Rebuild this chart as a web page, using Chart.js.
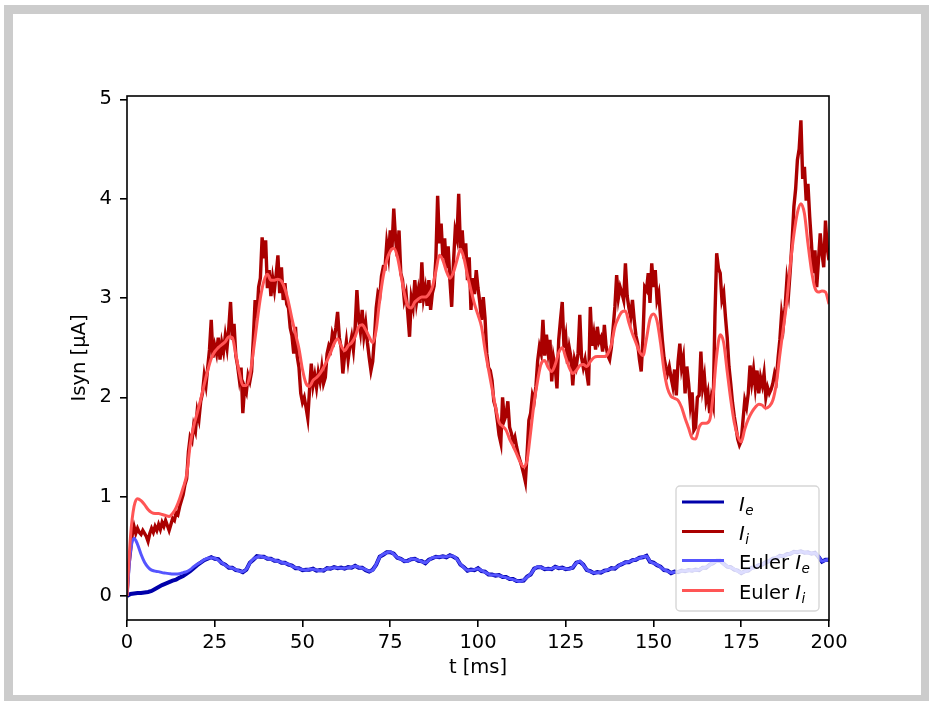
<!DOCTYPE html>
<html><head><meta charset="utf-8">
<script src="https://cdn.jsdelivr.net/npm/chart.js@4"></script>
<style>
html,body{margin:0;padding:0;background:#fff;}
body{width:929px;height:701px;position:relative;overflow:hidden;}
#frame{position:absolute;left:4px;top:5px;width:926px;height:699px;box-sizing:border-box;border:9px solid #cccccc;background:#fff;}
#c{position:absolute;left:0;top:0;}
</style></head><body>
<div id="frame"></div>
<canvas id="c" width="929" height="701"></canvas>
<script>
// ---- data ----
const xTicks = [0, 25, 50, 75, 100, 125, 150, 175, 200];
const yTicks = [0, 1, 2, 3, 4, 5];
const seriesLabels = ['Iₑ', 'Iᵢ', 'Euler Iₑ', 'Euler Iᵢ'];
const legendParts = [['', 'I', 'e'], ['', 'I', 'i'], ['Euler ', 'I', 'e'], ['Euler ', 'I', 'i']];
const xLabel = 't [ms]';
const yLabel = 'Isyn [μA]';

// time grids (ms)
const tMs = Array.from({length: 201}, (_, i) => i);
const tHalfMs = Array.from({length: 401}, (_, i) => i * 0.5);

// I_e (1 ms sampling)
const iE = [0,0.02,0.025,0.03,0.03,0.035,0.04,0.05,0.07,0.09,
 0.11,0.125,0.14,0.155,0.165,0.185,0.20,0.225,0.25,0.28,
 0.31,0.335,0.36,0.375,0.39,0.375,0.37,0.33,0.315,0.285,
 0.285,0.26,0.255,0.24,0.265,0.335,0.365,0.40,0.395,0.395,
 0.375,0.375,0.355,0.355,0.335,0.335,0.315,0.305,0.28,0.28,
 0.26,0.265,0.265,0.275,0.255,0.26,0.255,0.28,0.275,0.29,
 0.28,0.285,0.275,0.29,0.285,0.305,0.285,0.285,0.26,0.245,
 0.265,0.315,0.395,0.415,0.44,0.44,0.425,0.385,0.375,0.35,
 0.355,0.37,0.375,0.355,0.35,0.33,0.365,0.38,0.395,0.39,
 0.40,0.39,0.41,0.395,0.375,0.315,0.29,0.255,0.265,0.26,
 0.28,0.25,0.245,0.215,0.215,0.205,0.21,0.19,0.19,0.17,
 0.17,0.15,0.15,0.155,0.195,0.215,0.275,0.29,0.29,0.27,
 0.275,0.27,0.295,0.28,0.285,0.27,0.275,0.285,0.335,0.345,
 0.315,0.26,0.25,0.23,0.24,0.235,0.255,0.26,0.28,0.275,
 0.305,0.32,0.34,0.34,0.36,0.365,0.385,0.39,0.405,0.345,
 0.335,0.31,0.295,0.26,0.255,0.23,0.245,0.24,0.255,0.25,
 0.26,0.255,0.265,0.26,0.285,0.285,0.315,0.33,0.355,0.355,
 0.325,0.295,0.29,0.265,0.255,0.23,0.25,0.255,0.285,0.29,
 0.31,0.315,0.34,0.35,0.375,0.38,0.405,0.40,0.42,0.425,
 0.445,0.44,0.45,0.435,0.44,0.425,0.435,0.395,0.345,0.365,
 0.365];

// I_i (0.5 ms sampling)
const iI = [0,0.30,0.45,0.62,0.70,0.63,0.68,0.64,0.62,0.66,
 0.63,0.60,0.55,0.63,0.68,0.64,0.70,0.66,0.72,0.67,
 0.74,0.70,0.76,0.71,0.66,0.72,0.78,0.76,0.84,0.82,
 0.90,0.96,1.02,1.12,1.18,1.45,1.60,1.56,1.72,1.66,
 1.86,1.78,1.96,2.04,2.22,2.12,2.30,2.48,2.78,2.40,
 2.52,2.44,2.60,2.38,2.55,2.46,2.62,2.50,2.70,2.96,
 2.58,2.74,2.42,2.32,2.18,2.30,1.84,2.10,2.05,2.22,
 2.16,2.26,2.60,2.98,2.80,3.11,3.20,3.61,3.40,3.58,
 3.10,3.28,3.02,3.20,3.08,3.24,3.43,3.05,3.31,2.98,
 3.15,2.94,2.90,2.70,2.62,2.44,2.71,2.41,2.30,2.04,
 1.95,2.00,1.90,1.79,2.07,2.34,2.12,2.22,2.10,2.25,
 2.16,2.30,2.14,2.20,2.44,2.52,2.48,2.64,2.58,2.70,
 2.86,2.60,2.50,2.24,2.42,2.56,2.38,2.52,2.61,2.48,
 2.70,3.08,2.78,2.66,2.88,2.62,2.74,2.55,2.40,2.27,
 2.36,2.60,2.90,3.05,3.01,3.22,3.31,3.30,3.55,3.42,
 3.68,3.50,3.90,3.60,3.42,3.68,3.25,3.18,2.98,3.05,
 2.84,2.61,3.00,2.91,3.18,2.96,3.08,2.95,3.36,3.00,
 3.10,2.92,3.18,2.88,3.05,3.12,3.40,4.03,3.55,3.75,
 3.40,3.60,3.30,3.52,3.18,2.91,3.35,3.68,3.60,4.05,
 3.50,3.68,3.40,3.55,3.18,3.41,2.88,3.20,3.04,3.28,
 3.10,2.96,2.78,3.01,2.80,2.44,2.30,2.27,2.17,1.96,
 1.90,1.77,1.62,1.54,2.00,1.77,1.82,1.96,1.70,1.64,
 1.55,1.60,1.50,1.42,1.36,1.30,1.23,1.15,1.44,1.77,
 1.84,2.02,1.96,2.11,2.37,2.51,2.44,2.78,2.42,2.63,
 2.45,2.58,2.16,2.40,2.30,2.09,2.58,2.78,2.96,2.50,
 2.61,2.34,2.50,2.40,2.12,2.38,2.31,2.44,2.83,2.40,
 2.30,2.38,2.24,2.12,2.91,2.52,2.64,2.48,2.71,2.56,
 2.60,2.46,2.73,2.51,2.42,2.38,2.50,2.70,2.91,3.23,
 3.00,3.11,3.05,2.98,3.35,3.02,2.90,2.81,2.98,2.78,
 2.62,2.54,2.38,2.26,2.60,3.11,3.08,3.25,2.95,3.35,
 3.11,3.28,2.98,3.05,2.81,2.58,2.40,2.31,2.24,2.31,
 2.20,2.11,2.28,2.02,2.36,2.54,2.30,2.40,2.04,2.31,
 2.14,1.92,2.05,1.67,1.70,2.00,2.02,2.46,2.10,2.21,
 1.97,2.05,1.84,2.00,1.92,2.81,3.45,3.30,3.25,2.98,
 3.05,2.81,2.60,2.31,2.14,1.95,1.81,1.70,1.58,1.52,
 1.56,1.77,1.97,1.90,2.04,2.32,2.15,2.28,2.10,2.27,
 2.04,2.20,2.12,2.24,2.00,2.10,2.04,2.08,2.14,2.24,
 2.18,2.40,2.58,2.84,2.72,2.91,3.18,3.05,3.30,3.58,
 3.92,4.10,4.39,4.50,4.79,4.20,4.32,3.98,4.15,3.82,
 3.55,3.25,3.48,3.11,3.38,3.65,3.45,3.31,3.78,3.50,
 3.38];

// Euler I_e (1 ms sampling)
const eulerIe = [0,0.45,0.58,0.52,0.42,0.34,0.29,0.26,0.25,0.245,
 0.235,0.23,0.225,0.22,0.22,0.225,0.235,0.245,0.265,0.295,
 0.32,0.34,0.365,0.38,0.385,0.38,0.36,0.335,0.31,0.29,
 0.28,0.265,0.25,0.245,0.27,0.33,0.37,0.39,0.40,0.39,
 0.38,0.37,0.36,0.35,0.34,0.33,0.32,0.30,0.285,0.275,
 0.265,0.26,0.27,0.27,0.26,0.255,0.26,0.275,0.28,0.285,
 0.285,0.28,0.28,0.285,0.29,0.30,0.29,0.28,0.265,0.25,
 0.26,0.32,0.39,0.42,0.435,0.445,0.42,0.39,0.37,0.355,
 0.35,0.375,0.37,0.36,0.345,0.335,0.36,0.385,0.39,0.395,
 0.395,0.395,0.405,0.40,0.37,0.32,0.285,0.26,0.26,0.265,
 0.275,0.255,0.24,0.22,0.21,0.21,0.205,0.195,0.185,0.175,
 0.165,0.155,0.145,0.16,0.19,0.22,0.27,0.295,0.285,0.275,
 0.27,0.275,0.29,0.285,0.28,0.275,0.27,0.29,0.33,0.35,
 0.31,0.265,0.245,0.235,0.235,0.24,0.25,0.265,0.275,0.28,
 0.30,0.325,0.335,0.345,0.355,0.37,0.38,0.395,0.40,0.35,
 0.33,0.315,0.29,0.265,0.25,0.235,0.24,0.245,0.25,0.255,
 0.255,0.26,0.26,0.265,0.28,0.29,0.31,0.335,0.35,0.36,
 0.32,0.30,0.285,0.27,0.25,0.235,0.245,0.26,0.28,0.295,
 0.305,0.32,0.335,0.355,0.37,0.385,0.40,0.405,0.415,0.43,
 0.44,0.445,0.445,0.44,0.435,0.43,0.43,0.40,0.35,0.36,
 0.37];

// Euler I_i (1 ms sampling)
const eulerIi = [0,0.60,0.90,0.98,0.96,0.92,0.87,0.84,0.83,0.83,
 0.82,0.81,0.80,0.83,0.89,0.98,1.09,1.22,1.52,1.71,
 1.84,1.98,2.13,2.27,2.39,2.46,2.50,2.53,2.56,2.61,
 2.60,2.43,2.25,2.12,2.12,2.22,2.46,2.74,3.00,3.17,
 3.24,3.18,3.18,3.19,3.17,3.09,2.96,2.79,2.64,2.49,
 2.28,2.14,2.11,2.17,2.20,2.24,2.30,2.37,2.45,2.54,
 2.59,2.52,2.47,2.52,2.55,2.61,2.71,2.73,2.68,2.61,
 2.55,2.68,2.98,3.22,3.38,3.47,3.50,3.42,3.24,3.05,
 2.92,2.90,2.96,2.99,3.01,3.01,3.04,3.11,3.27,3.43,
 3.38,3.27,3.20,3.26,3.38,3.49,3.40,3.23,3.08,2.94,
 2.83,2.71,2.48,2.28,2.09,1.90,1.75,1.71,1.67,1.58,
 1.51,1.43,1.35,1.30,1.37,1.65,1.95,2.17,2.34,2.37,
 2.30,2.26,2.33,2.45,2.50,2.40,2.30,2.24,2.27,2.32,
 2.33,2.31,2.36,2.40,2.41,2.41,2.41,2.44,2.53,2.71,
 2.80,2.86,2.87,2.75,2.64,2.55,2.46,2.42,2.59,2.79,
 2.84,2.77,2.55,2.27,2.09,2.01,1.99,1.97,1.90,1.79,
 1.69,1.59,1.58,1.70,1.74,1.74,1.77,2.03,2.42,2.63,
 2.55,2.26,1.98,1.75,1.61,1.55,1.68,1.78,1.85,1.90,
 1.93,1.92,1.89,1.91,1.97,2.14,2.43,2.70,2.97,3.34,
 3.64,3.86,3.95,3.85,3.55,3.28,3.10,3.06,3.07,3.06,
 2.94];

const colors = ['#0000aa', '#aa0000', '#5555ff', '#ff5555'];

// ---- chart ----
const FONT = 'DejaVu Sans';
const FS = 19.5;
Chart.defaults.font.family = FONT;
Chart.defaults.color = '#000';

const xy = (ts, vs) => ts.map((t, i) => ({x: t, y: vs[i]}));

const frameLegendPlugin = {
  id: 'frameLegend',
  afterDatasetsDraw(chart) {
    const {ctx, chartArea: a} = chart;
    ctx.save();
    ctx.strokeStyle = '#000';
    ctx.lineWidth = 1.6;
    ctx.strokeRect(a.left, a.top, a.right - a.left, a.bottom - a.top);
    ctx.restore();
  },
  afterDraw(chart) {
    const {ctx, chartArea: a} = chart;
    const w = 143, h = 125;
    const L = a.right - 153, T = a.bottom - 134;
    ctx.save();
    ctx.beginPath();
    if (ctx.roundRect) ctx.roundRect(L, T, w, h, 4); else ctx.rect(L, T, w, h);
    ctx.fillStyle = 'rgba(255,255,255,0.8)';
    ctx.fill();
    ctx.strokeStyle = 'rgba(204,204,204,0.8)';
    ctx.lineWidth = 1.4;
    ctx.stroke();
    const rows = [T + 16, T + 45.5, T + 74.5, T + 104.5];
    legendParts.forEach((p, i) => {
      const y = rows[i];
      ctx.strokeStyle = colors[i];
      ctx.lineWidth = 3;
      ctx.beginPath();
      ctx.moveTo(L + 6, y);
      ctx.lineTo(L + 48, y);
      ctx.stroke();
      ctx.fillStyle = '#000';
      ctx.textBaseline = 'alphabetic';
      ctx.textAlign = 'left';
      let x = L + 63;
      const base = y + 8.5;
      ctx.font = FS + 'px "' + FONT + '"';
      ctx.fillText(p[0], x, base);
      x += ctx.measureText(p[0]).width;
      ctx.font = 'italic ' + FS + 'px "' + FONT + '"';
      ctx.fillText(p[1], x, base);
      x += ctx.measureText(p[1]).width + 0.5;
      ctx.font = 'italic 13.6px "' + FONT + '"';
      ctx.fillText(p[2], x, base + 4);
    });
    ctx.restore();
  }
};

const gridOpts = {
  drawOnChartArea: false, drawTicks: true, tickLength: 7,
  tickColor: '#000', tickWidth: 1.6, color: '#000', lineWidth: 1.6
};

new Chart(document.getElementById('c'), {
  type: 'line',
  data: {
    datasets: [
      {label: seriesLabels[0], data: xy(tMs, iE), borderColor: colors[0], borderWidth: 4, order: 4},
      {label: seriesLabels[1], data: xy(tHalfMs, iI), borderColor: colors[1], borderWidth: 3.4, order: 3},
      {label: seriesLabels[2], data: xy(tMs, eulerIe), borderColor: colors[2], order: 2, cubicInterpolationMode: 'monotone'},
      {label: seriesLabels[3], data: xy(tMs, eulerIi), borderColor: colors[3], order: 1, cubicInterpolationMode: 'monotone'}
    ]
  },
  options: {
    responsive: false,
    animation: false,
    devicePixelRatio: 1,
    layout: {padding: {left: 0, top: 96, right: 100, bottom: 0}},
    plugins: {legend: {display: false}, tooltip: {enabled: false}},
    elements: {point: {radius: 0}, line: {borderWidth: 3, tension: 0, fill: false}},
    scales: {
      x: {
        type: 'linear', min: xTicks[0], max: xTicks[xTicks.length - 1],
        afterBuildTicks(s) { s.ticks = xTicks.map(v => ({value: v})); },
        ticks: {stepSize: 25, font: {size: FS}, padding: 4, maxRotation: 0, autoSkip: false},
        grid: gridOpts,
        border: {display: false},
        title: {display: true, text: xLabel, font: {size: FS, lineHeight: 1}, padding: {top: 0, bottom: 23.5}},
        afterFit(s) { s.height = 81; }
      },
      y: {
        type: 'linear', min: -0.242, max: 5.034,
        afterBuildTicks(s) { s.ticks = yTicks.map(v => ({value: v})); },
        ticks: {stepSize: 1, includeBounds: false, font: {size: FS}, padding: 8},
        grid: gridOpts,
        border: {display: false},
        title: {display: true, text: yLabel, font: {size: FS, lineHeight: 1}, padding: {top: 70, bottom: 0}},
        afterFit(s) { s.width = 127; }
      }
    }
  },
  plugins: [frameLegendPlugin]
});
</script>
</body></html>
